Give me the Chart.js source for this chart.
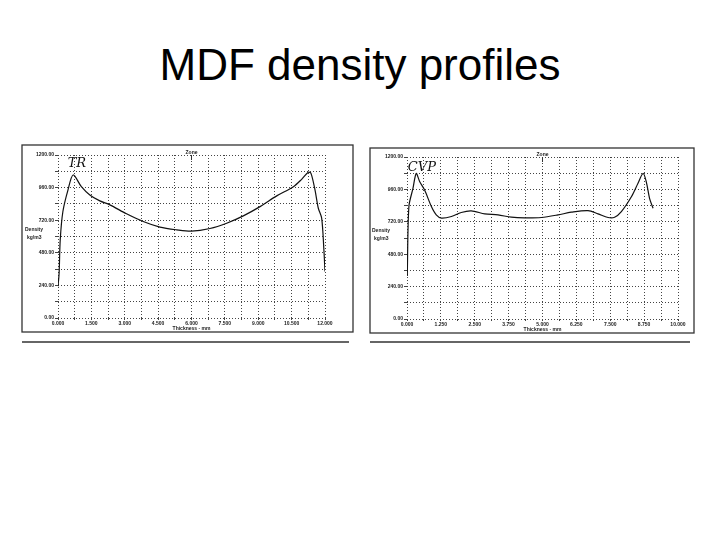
<!DOCTYPE html>
<html>
<head>
<meta charset="utf-8">
<script src="https://cdn.jsdelivr.net/npm/chart.js@4"></script>
<style>
  body { margin: 0; background: #fff; }
  #page { position: relative; width: 720px; height: 540px; overflow: hidden; }
  h1 { position: absolute; left: 0; top: 40px; width: 720px; margin: 0; text-align: center;
       font: normal 44px "Liberation Sans", Arial, sans-serif; color: #000; }
  #left { position: absolute; left: 20px; top: 143px; }
  #right { position: absolute; left: 368px; top: 143px; }
</style>
</head>
<body>
<div id="page">
  <h1>MDF density profiles</h1>
  <canvas id="left" width="336" height="202"></canvas>
  <canvas id="right" width="330" height="202"></canvas>
</div>
<script>
// left profile (0 - 12 mm)
const leftThickness = [0.0, 0.05, 0.1, 0.22, 0.45, 0.68, 1.05, 1.43, 1.88, 2.33, 3.08, 3.83, 4.58, 5.33, 6.0, 6.83, 7.58, 8.33, 9.08, 9.83, 10.58, 10.95, 11.25, 11.37, 11.55, 11.7, 11.85, 11.95, 12.0];
const leftDensity = [233, 330, 575, 784, 943, 1053, 967, 906, 862, 833, 767, 710, 669, 649, 639, 659, 698, 752, 820, 899, 967, 1021, 1073, 1065, 943, 808, 735, 502, 343];

// right profile (0 - 9.1 mm)
const rightThickness = [0.01, 0.07, 0.22, 0.34, 0.47, 0.65, 0.9, 1.08, 1.27, 1.64, 2.0, 2.37, 2.87, 3.36, 3.85, 4.34, 4.96, 5.57, 6.06, 6.68, 7.05, 7.42, 7.66, 7.91, 8.28, 8.52, 8.71, 8.83, 8.95, 9.08];
const rightDensity = [318, 833, 967, 1078, 1016, 955, 833, 771, 747, 759, 789, 801, 779, 771, 754, 749, 752, 771, 791, 803, 779, 752, 754, 796, 906, 1004, 1078, 1016, 894, 820];

// tick labels and grid positions
const yLabels = [0, 240, 480, 720, 960, 1200];
const yGrid = [0, 120, 240, 360, 480, 600, 720, 840, 960, 1080, 1200];
const leftXLabels = [0, 1.5, 3, 4.5, 6, 7.5, 9, 10.5, 12];
const leftXGrid = [0, 0.75, 1.5, 2.25, 3, 3.75, 4.5, 5.25, 6, 6.75, 7.5, 8.25, 9, 9.75, 10.5, 11.25, 12];
const rightXLabels = [0, 1.25, 2.5, 3.75, 5, 6.25, 7.5, 8.75, 10];
const rightXGrid = [0, 0.625, 1.25, 1.875, 2.5, 3.125, 3.75, 4.375, 5, 5.625, 6.25, 6.875, 7.5, 8.125, 8.75, 9.375, 10];

const tickFont = { family: 'Liberation Sans', size: 5, weight: 'bold' };

// frame, "Zone" marker, y title and hand notes
const decor = {
  id: 'decor',
  afterDraw(chart, args, o) {
    const c = chart.ctx, a = chart.chartArea;
    c.save();
    c.strokeStyle = '#333';
    c.lineWidth = 1.3;
    c.strokeRect(o.frame[0], o.frame[1], o.frame[2] - o.frame[0], o.frame[3] - o.frame[1]);
    c.beginPath();
    c.moveTo(o.frame[0], o.base);
    c.lineTo(o.frame[2] - 4, o.base);
    c.stroke();
    // zone marker
    const cx = (a.left + a.right) / 2;
    c.lineWidth = 1;
    c.beginPath();
    c.moveTo(cx, a.top);
    c.lineTo(cx, a.top + 5);
    c.stroke();
    c.fillStyle = '#222';
    c.font = 'bold 5px "Liberation Sans"';
    c.textAlign = 'center';
    c.textBaseline = 'bottom';
    c.fillText('Zone', cx, a.top);
    c.textAlign = 'left';
    c.textBaseline = 'middle';
    c.fillText('Density', o.ytitle[0], o.ytitle[1]);
    c.fillText('kg/m3', o.ytitle[0] + 2, o.ytitle[1] + 8);
    // handwritten note
    c.font = 'italic 13px "DejaVu Serif"';
    c.textAlign = 'center';
    c.fillStyle = '#111';
    c.fillText(o.note, chart.scales.x.getPixelForValue(o.noteAt[0]), chart.scales.y.getPixelForValue(o.noteAt[1]));
    c.restore();
  }
};

function makeChart(id, xs, ys, xGrid, xLabels, xMax, pad, yWidth, deco) {
  return new Chart(document.getElementById(id), {
    type: 'line',
    data: {
      datasets: [{
        data: xs.map((x, i) => ({ x: x, y: ys[i] })),
        borderColor: '#111',
        borderWidth: 1.2,
        pointRadius: 0,
        tension: 0.3,
        fill: false
      }]
    },
    options: {
      responsive: false,
      animation: false,
      layout: { padding: pad },
      plugins: { legend: { display: false }, tooltip: { enabled: false }, decor: deco },
      scales: {
        x: {
          type: 'linear', min: 0, max: xMax,
          afterBuildTicks: s => { s.ticks = xGrid.map(v => ({ value: v })); },
          afterFit: s => { s.height = 14; },
          border: { display: false, dash: [1, 2] },
          grid: { color: '#444', lineWidth: 1, tickLength: 2 },
          ticks: {
            autoSkip: false, maxRotation: 0, padding: 1, color: '#222', font: tickFont,
            callback: v => xLabels.includes(v) ? v.toFixed(3) : ''
          },
          title: { display: true, text: 'Thickness - mm', color: '#222', font: tickFont, padding: 0 }
        },
        y: {
          min: 0, max: 1200,
          afterBuildTicks: s => { s.ticks = yGrid.map(v => ({ value: v })); },
          afterFit: s => { s.width = yWidth; },
          border: { display: false, dash: [1, 2] },
          grid: { color: '#444', lineWidth: 1, tickLength: 3 },
          ticks: {
            autoSkip: false, padding: 1, color: '#222', font: tickFont,
            callback: v => yLabels.includes(v) ? v.toFixed(2) : ''
          }
        }
      }
    },
    plugins: [decor]
  });
}

makeChart('left', leftThickness, leftDensity, leftXGrid, leftXLabels, 12,
  { left: 0, right: 31, top: 12, bottom: 13 }, 38,
  { frame: [2, 2, 333, 189], base: 199, ytitle: [5, 87], note: 'TR', noteAt: [0.85, 1140] });

makeChart('right', rightThickness, rightDensity, rightXGrid, rightXLabels, 10,
  { left: 0, right: 20, top: 14, bottom: 12 }, 39,
  { frame: [2, 5, 326, 190], base: 199, ytitle: [4, 88], note: 'CVP', noteAt: [0.55, 1120] });
</script>
</body>
</html>
